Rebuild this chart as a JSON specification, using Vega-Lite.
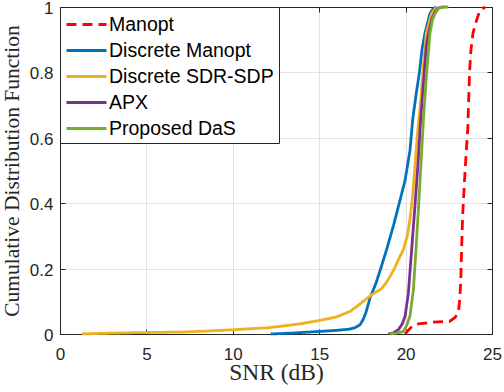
{
  "$schema": "https://vega.github.io/schema/vega-lite/v6.json",
  "width": 432,
  "height": 327,
  "autosize": {"type": "none"},
  "padding": {"left": 60, "top": 7, "right": 12, "bottom": 58},
  "background": "white",
  "config": {
    "view": {"stroke": "#262626", "strokeWidth": 1},
    "axis": {
      "domainColor": "#262626",
      "tickColor": "#262626",
      "labelColor": "#262626",
      "titleColor": "#262626",
      "labelFont": "Liberation Sans",
      "labelFontSize": 17,
      "titleFont": "Liberation Serif",
      "titleFontWeight": "normal",
      "gridColor": "#e3e3e3",
      "gridWidth": 1,
      "tickSize": -5,
      "labelFlush": false,
      "labelOverlap": false
    },
    "legend": {
      "orient": "none",
      "legendX": 0,
      "legendY": 0,
      "fillColor": "white",
      "strokeColor": "#262626",
      "padding": 5,
      "symbolType": "M-1.818,0L1.818,0",
      "symbolSize": 484,
      "symbolStrokeWidth": 2.8,
      "symbolOffset": 9,
      "labelOffset": 10,
      "labelFont": "Liberation Sans",
      "labelFontSize": 19.5,
      "labelColor": "#000000",
      "labelLimit": 300,
      "rowPadding": 4,
      "title": null
    }
  },
  "data": {
    "values": [
      {"s": "Manopt", "x": 19.97, "y": 0},
      {"s": "Manopt", "x": 20.1, "y": 0.008},
      {"s": "Manopt", "x": 20.4, "y": 0.025},
      {"s": "Manopt", "x": 20.74, "y": 0.031},
      {"s": "Manopt", "x": 21.5, "y": 0.036},
      {"s": "Manopt", "x": 22.57, "y": 0.039},
      {"s": "Manopt", "x": 22.85, "y": 0.05},
      {"s": "Manopt", "x": 23.05, "y": 0.064},
      {"s": "Manopt", "x": 23.12, "y": 0.1},
      {"s": "Manopt", "x": 23.19, "y": 0.156},
      {"s": "Manopt", "x": 23.24, "y": 0.258},
      {"s": "Manopt", "x": 23.3, "y": 0.36},
      {"s": "Manopt", "x": 23.4, "y": 0.46},
      {"s": "Manopt", "x": 23.5, "y": 0.55},
      {"s": "Manopt", "x": 23.6, "y": 0.63},
      {"s": "Manopt", "x": 23.67, "y": 0.75},
      {"s": "Manopt", "x": 23.7, "y": 0.8},
      {"s": "Manopt", "x": 23.78, "y": 0.867},
      {"s": "Manopt", "x": 23.9, "y": 0.92},
      {"s": "Manopt", "x": 24.11, "y": 0.96},
      {"s": "Manopt", "x": 24.3, "y": 0.99},
      {"s": "Manopt", "x": 24.6, "y": 1.0},

      {"s": "Discrete Manopt", "x": 12.19, "y": 0},
      {"s": "Discrete Manopt", "x": 13.5, "y": 0.003},
      {"s": "Discrete Manopt", "x": 15.05, "y": 0.008},
      {"s": "Discrete Manopt", "x": 16.0, "y": 0.011},
      {"s": "Discrete Manopt", "x": 16.78, "y": 0.015},
      {"s": "Discrete Manopt", "x": 17.1, "y": 0.02},
      {"s": "Discrete Manopt", "x": 17.36, "y": 0.028},
      {"s": "Discrete Manopt", "x": 17.55, "y": 0.045},
      {"s": "Discrete Manopt", "x": 17.7, "y": 0.065},
      {"s": "Discrete Manopt", "x": 17.94, "y": 0.11},
      {"s": "Discrete Manopt", "x": 18.29, "y": 0.156},
      {"s": "Discrete Manopt", "x": 18.6, "y": 0.207},
      {"s": "Discrete Manopt", "x": 18.9, "y": 0.258},
      {"s": "Discrete Manopt", "x": 19.29, "y": 0.33},
      {"s": "Discrete Manopt", "x": 19.68, "y": 0.41},
      {"s": "Discrete Manopt", "x": 19.97, "y": 0.47},
      {"s": "Discrete Manopt", "x": 20.25, "y": 0.56},
      {"s": "Discrete Manopt", "x": 20.41, "y": 0.655},
      {"s": "Discrete Manopt", "x": 20.6, "y": 0.73},
      {"s": "Discrete Manopt", "x": 20.8, "y": 0.8},
      {"s": "Discrete Manopt", "x": 20.95, "y": 0.87},
      {"s": "Discrete Manopt", "x": 21.12, "y": 0.92},
      {"s": "Discrete Manopt", "x": 21.41, "y": 0.98},
      {"s": "Discrete Manopt", "x": 21.6, "y": 0.995},
      {"s": "Discrete Manopt", "x": 21.8, "y": 1.0},

      {"s": "Discrete SDR-SDP", "x": 1.25, "y": 0},
      {"s": "Discrete SDR-SDP", "x": 2.5, "y": 0.002},
      {"s": "Discrete SDR-SDP", "x": 4.24, "y": 0.004},
      {"s": "Discrete SDR-SDP", "x": 7.1, "y": 0.006},
      {"s": "Discrete SDR-SDP", "x": 8.5, "y": 0.009},
      {"s": "Discrete SDR-SDP", "x": 10.03, "y": 0.013},
      {"s": "Discrete SDR-SDP", "x": 11.0, "y": 0.016},
      {"s": "Discrete SDR-SDP", "x": 12.0, "y": 0.019},
      {"s": "Discrete SDR-SDP", "x": 13.0, "y": 0.025},
      {"s": "Discrete SDR-SDP", "x": 13.9, "y": 0.031},
      {"s": "Discrete SDR-SDP", "x": 15.05, "y": 0.042},
      {"s": "Discrete SDR-SDP", "x": 16.0, "y": 0.052},
      {"s": "Discrete SDR-SDP", "x": 16.78, "y": 0.069},
      {"s": "Discrete SDR-SDP", "x": 17.2, "y": 0.085},
      {"s": "Discrete SDR-SDP", "x": 17.55, "y": 0.1},
      {"s": "Discrete SDR-SDP", "x": 17.9, "y": 0.114},
      {"s": "Discrete SDR-SDP", "x": 18.23, "y": 0.127},
      {"s": "Discrete SDR-SDP", "x": 18.6, "y": 0.138},
      {"s": "Discrete SDR-SDP", "x": 18.85, "y": 0.155},
      {"s": "Discrete SDR-SDP", "x": 19.1, "y": 0.176},
      {"s": "Discrete SDR-SDP", "x": 19.35, "y": 0.2},
      {"s": "Discrete SDR-SDP", "x": 19.58, "y": 0.227},
      {"s": "Discrete SDR-SDP", "x": 19.87, "y": 0.258},
      {"s": "Discrete SDR-SDP", "x": 20.1, "y": 0.3},
      {"s": "Discrete SDR-SDP", "x": 20.25, "y": 0.35},
      {"s": "Discrete SDR-SDP", "x": 20.4, "y": 0.42},
      {"s": "Discrete SDR-SDP", "x": 20.54, "y": 0.51},
      {"s": "Discrete SDR-SDP", "x": 20.68, "y": 0.61},
      {"s": "Discrete SDR-SDP", "x": 20.87, "y": 0.71},
      {"s": "Discrete SDR-SDP", "x": 21.03, "y": 0.82},
      {"s": "Discrete SDR-SDP", "x": 21.2, "y": 0.92},
      {"s": "Discrete SDR-SDP", "x": 21.5, "y": 0.98},
      {"s": "Discrete SDR-SDP", "x": 21.8, "y": 1.0},

      {"s": "APX", "x": 19.0, "y": 0},
      {"s": "APX", "x": 19.3, "y": 0.004},
      {"s": "APX", "x": 19.58, "y": 0.013},
      {"s": "APX", "x": 19.8, "y": 0.03},
      {"s": "APX", "x": 19.97, "y": 0.054},
      {"s": "APX", "x": 20.16, "y": 0.125},
      {"s": "APX", "x": 20.35, "y": 0.258},
      {"s": "APX", "x": 20.54, "y": 0.39},
      {"s": "APX", "x": 20.73, "y": 0.53},
      {"s": "APX", "x": 20.87, "y": 0.655},
      {"s": "APX", "x": 21.08, "y": 0.8},
      {"s": "APX", "x": 21.2, "y": 0.88},
      {"s": "APX", "x": 21.33, "y": 0.92},
      {"s": "APX", "x": 21.5, "y": 0.96},
      {"s": "APX", "x": 21.7, "y": 0.985},
      {"s": "APX", "x": 21.9, "y": 0.997},
      {"s": "APX", "x": 22.2, "y": 1.0},

      {"s": "Proposed DaS", "x": 19.1, "y": 0},
      {"s": "Proposed DaS", "x": 19.5, "y": 0.003},
      {"s": "Proposed DaS", "x": 19.87, "y": 0.008},
      {"s": "Proposed DaS", "x": 20.05, "y": 0.025},
      {"s": "Proposed DaS", "x": 20.25, "y": 0.054},
      {"s": "Proposed DaS", "x": 20.45, "y": 0.135},
      {"s": "Proposed DaS", "x": 20.6, "y": 0.258},
      {"s": "Proposed DaS", "x": 20.75, "y": 0.39},
      {"s": "Proposed DaS", "x": 20.9, "y": 0.53},
      {"s": "Proposed DaS", "x": 21.03, "y": 0.655},
      {"s": "Proposed DaS", "x": 21.22, "y": 0.8},
      {"s": "Proposed DaS", "x": 21.41, "y": 0.92},
      {"s": "Proposed DaS", "x": 21.55, "y": 0.96},
      {"s": "Proposed DaS", "x": 21.7, "y": 0.98},
      {"s": "Proposed DaS", "x": 21.9, "y": 0.995},
      {"s": "Proposed DaS", "x": 22.1, "y": 1.0},
      {"s": "Proposed DaS", "x": 22.47, "y": 1.0}
    ]
  },
  "layer": [
    {
      "mark": {"type": "line", "strokeWidth": 2.8, "strokeCap": "butt", "strokeJoin": "round"},
      "encoding": {
        "x": {
          "field": "x", "type": "quantitative",
          "scale": {"domain": [0, 25], "nice": false, "zero": false},
          "axis": {
            "orient": "bottom",
            "values": [0, 5, 10, 15, 20, 25],
            "grid": true,
            "labelPadding": 17,
            "title": "SNR (dB)",
            "titleFontSize": 23.5,
            "titleX": 216,
            "titleY": 45.5,
            "titleBaseline": "alphabetic",
            "titleAlign": "center"
          }
        },
        "y": {
          "field": "y", "type": "quantitative",
          "scale": {"domain": [0, 1], "nice": false},
          "axis": {
            "orient": "left",
            "values": [0, 0.2, 0.4, 0.6, 0.8, 1],
            "format": "~g",
            "grid": true,
            "labelPadding": 12,
            "labelOffset": 1.5,
            "title": "Cumulative Distribution Function",
            "titleFontSize": 21.5,
            "titleAngle": -90,
            "titleX": -42,
            "titleY": 163.5,
            "titleBaseline": "alphabetic",
            "titleAlign": "center"
          }
        },
        "color": {
          "field": "s", "type": "nominal",
          "scale": {
            "domain": ["Manopt", "Discrete Manopt", "Discrete SDR-SDP", "APX", "Proposed DaS"],
            "range": ["#FF0000", "#0072BD", "#EDB120", "#7E2F8E", "#77AC30"]
          },
          "legend": {"title": null}
        },
        "strokeDash": {
          "field": "s", "type": "nominal",
          "scale": {
            "domain": ["Manopt", "Discrete Manopt", "Discrete SDR-SDP", "APX", "Proposed DaS"],
            "range": [[10, 6], [1, 0], [1, 0], [1, 0], [1, 0]]
          },
          "legend": {"title": null}
        }
      }
    },
    {
      "mark": {"type": "line", "opacity": 0},
      "encoding": {
        "x": {
          "field": "x", "type": "quantitative",
          "scale": {"domain": [0, 25], "nice": false, "zero": false},
          "axis": {"orient": "top", "values": [0, 5, 10, 15, 20, 25], "labels": false, "grid": false, "title": null}
        },
        "y": {
          "field": "y", "type": "quantitative",
          "scale": {"domain": [0, 1], "nice": false},
          "axis": {"orient": "right", "values": [0, 0.2, 0.4, 0.6, 0.8, 1], "labels": false, "grid": false, "title": null}
        },
        "detail": {"field": "s", "type": "nominal"}
      }
    }
  ],
  "resolve": {"axis": {"x": "independent", "y": "independent"}}
}
